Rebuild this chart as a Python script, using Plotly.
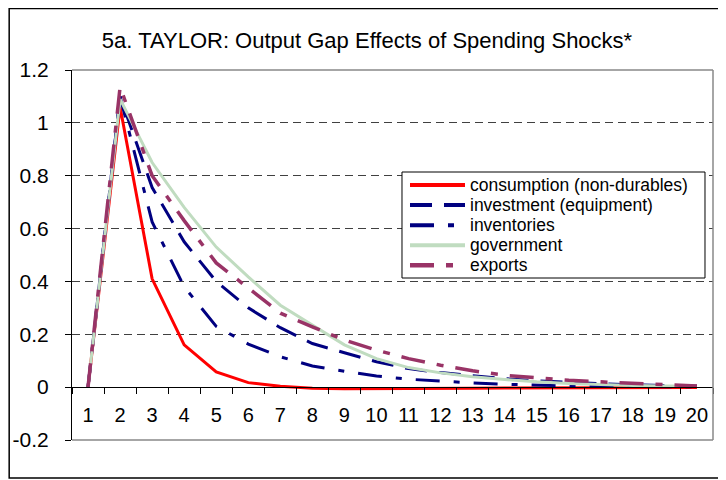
import plotly.graph_objs as go

periods = [str(p) for p in range(1, 21)]

consumption = [0, 1.06, 0.41, 0.16, 0.058, 0.017, 0.003, -0.004, -0.006, -0.006,
               -0.005, -0.005, -0.004, -0.003, -0.003, -0.002, -0.002, -0.001, -0.001, -0.001]
investment = [0, 1.10, 0.755, 0.55, 0.40, 0.30, 0.225, 0.165, 0.13, 0.096,
              0.07, 0.055, 0.043, 0.032, 0.024, 0.018, 0.013, 0.009, 0.006, 0.004]
inventories = [0, 1.10, 0.625, 0.38, 0.23, 0.163, 0.115, 0.08, 0.06, 0.042,
               0.03, 0.022, 0.016, 0.011, 0.007, 0.005, 0.003, 0.002, 0.001, 0.001]
government = [0, 1.09, 0.85, 0.68, 0.53, 0.417, 0.31, 0.235, 0.16, 0.108,
              0.074, 0.054, 0.039, 0.029, 0.02, 0.014, 0.009, 0.006, 0.004, 0.003]
exports = [0, 1.136, 0.80, 0.63, 0.47, 0.375, 0.28, 0.228, 0.178, 0.14,
           0.108, 0.083, 0.062, 0.045, 0.035, 0.026, 0.02, 0.015, 0.009, 0.004]

y_ticks = [-0.2, 0, 0.2, 0.4, 0.6, 0.8, 1.0, 1.2]
y_labels = ['-0.2', '0', '0.2', '0.4', '0.6', '0.8', '1', '1.2']

series = [
    ('consumption (non-durables)', consumption, '#ff0000', 'solid', 3),
    ('investment (equipment)', investment, '#000080', '22px,12px', 3),
    ('inventories', inventories, '#000080', '24px,14px,6px,14px', 3),
    ('government', government, '#c0dcc0', 'solid', 3),
    ('exports', exports, '#993366', '24px,12px,7px,12px', 3.5),
]

FONT = 'Liberation Sans, Arial, sans-serif'

fig = go.Figure()
for name, vals, color, dash, width in series:
    fig.add_trace(go.Scatter(
        x=periods, y=vals, name=name, mode='lines', showlegend=False,
        line=dict(color=color, dash=dash, width=width)
    ))

# the page puts the figure 8px in from the top-left corner, margins allow for that
fig.update_layout(
    template='none',
    width=726, height=480,
    margin=dict(l=64, r=21, t=62, b=48),
    paper_bgcolor='white', plot_bgcolor='white',
    font=dict(family=FONT, color='black', size=20),
    title=dict(
        text='5a. TAYLOR: Output Gap Effects of Spending Shocks*',
        font=dict(size=22), x=0.4945, xref='container', xanchor='center',
        y=0.933, yref='container', yanchor='middle'
    ),
    xaxis=dict(
        type='category', range=[-0.5, 19.5], anchor='free', position=0.2 / 1.4,
        showline=True, linecolor='black', linewidth=1,
        ticks='outside', tickson='boundaries', ticklen=6, tickcolor='black',
        ticklabelstandoff=10, showgrid=False, zeroline=False, automargin=False
    ),
    yaxis=dict(
        range=[-0.2, 1.2], tickvals=y_ticks, ticktext=y_labels,
        tickfont=dict(size=21),
        showline=True, linecolor='black', linewidth=1,
        ticks='outside', ticklen=6, tickcolor='black', ticklabelstandoff=12,
        showgrid=True, gridcolor='#404040', griddash='8px,5px', gridwidth=1,
        zeroline=False, automargin=False
    ),
)

# plot area border (top, right, bottom) in grey
for x0, y0, x1, y1 in [(0, 1, 1, 1), (1, 0, 1, 1), (0, 0, 1, 0)]:
    fig.add_shape(type='line', xref='paper', yref='paper', x0=x0, y0=y0, x1=x1, y1=y1,
                  line=dict(color='#888888', width=1.5), layer='above')

# outer chart frame
fig.add_shape(type='rect', xref='paper', yref='paper',
              x0=-0.098, y0=-0.103, x1=1.05, y1=1.166,
              line=dict(color='black', width=1.5), layer='above')

# legend, drawn by hand so the box and text keep the Excel proportions
leg_x0, leg_x1, leg_y0, leg_y1 = 0.5148, 0.9875, 0.4378, 0.7243
fig.add_shape(type='rect', xref='paper', yref='paper',
              x0=leg_x0, x1=leg_x1, y0=leg_y0, y1=leg_y1,
              fillcolor='white', line=dict(color='black', width=1), layer='above')
row_top, row_step = 0.6892, 0.0543
for i, (name, vals, color, dash, width) in enumerate(series):
    ry = row_top - i * row_step
    fig.add_shape(type='line', xref='paper', yref='paper',
                  x0=0.5273, x1=0.6131, y0=ry, y1=ry,
                  line=dict(color=color, dash=dash, width=width + 1), layer='above')
    fig.add_annotation(x=0.6178, y=ry, xref='paper', yref='paper',
                       xanchor='left', yanchor='middle', showarrow=False,
                       text=name, font=dict(size=17.5))

fig.write_html('out.html')
